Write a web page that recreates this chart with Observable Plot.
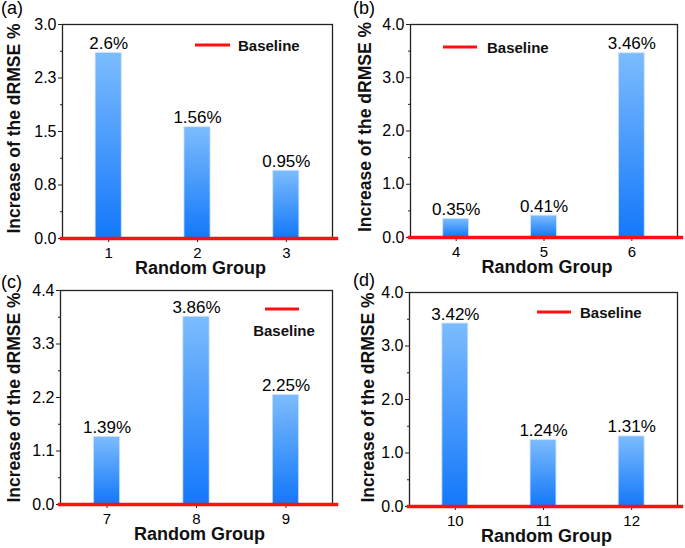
<!DOCTYPE html>
<html>
<head>
<meta charset="utf-8">
<script src="https://cdn.jsdelivr.net/npm/d3@7"></script>
<script src="https://cdn.jsdelivr.net/npm/@observablehq/plot@0.6"></script>
<style>
  body { margin: 0; background: white; }
  #root { position: relative; width: 685px; height: 548px; overflow: hidden; background: white; }
  .panel { position: absolute; }
</style>
</head>
<body>
<div id="root"></div>
<script>
// ---- Data ----
const groupsA = [1, 2, 3];
const valuesA = [2.6, 1.56, 0.95];
const labelsA = ["2.6%", "1.56%", "0.95%"];
const yTicksA = [0, 0.75, 1.5, 2.25, 3.0];
const yTickLabelsA = ["0.0", "0.8", "1.5", "2.3", "3.0"];
const yMaxA = 3.0;

const groupsB = [4, 5, 6];
const valuesB = [0.35, 0.41, 3.46];
const labelsB = ["0.35%", "0.41%", "3.46%"];
const yTicksB = [0, 1, 2, 3, 4];
const yTickLabelsB = ["0.0", "1.0", "2.0", "3.0", "4.0"];
const yMaxB = 4.0;

const groupsC = [7, 8, 9];
const valuesC = [1.39, 3.86, 2.25];
const labelsC = ["1.39%", "3.86%", "2.25%"];
const yTicksC = [0, 1.1, 2.2, 3.3, 4.4];
const yTickLabelsC = ["0.0", "1.1", "2.2", "3.3", "4.4"];
const yMaxC = 4.4;

const groupsD = [10, 11, 12];
const valuesD = [3.42, 1.24, 1.31];
const labelsD = ["3.42%", "1.24%", "1.31%"];
const yTicksD = [0, 1, 2, 3, 4];
const yTickLabelsD = ["0.0", "1.0", "2.0", "3.0", "4.0"];
const yMaxD = 4.0;

const xTitle = "Random Group";
const yTitle = "Increase of the dRMSE %";
const legendText = "Baseline";

const NS = "http://www.w3.org/2000/svg";
function el(tag, attrs, text) {
  const e = document.createElementNS(NS, tag);
  for (const k in attrs) e.setAttribute(k, attrs[k]);
  if (text != null) e.textContent = text;
  return e;
}

function panel(cfg) {
  const {groups, values, labels, yTicks, yTickLabels, yMax, left, top, width, height,
         ml, mr, mt, mb, gid, letter, letterPos, leg, ytDx, ytDy, xtDy} = cfg;
  const data = groups.map((g, i) => ({g, v: values[i], label: labels[i]}));
  const x0 = groups[0] - 0.52, x1 = groups[groups.length - 1] + 0.52;
  const halves = d3.range(groups[0] - 0.5, groups[groups.length - 1] + 0.51, 1);
  const yMinor = yTicks.slice(1).map((t, i) => (t + yTicks[i]) / 2);
  const fmt = new Map(yTicks.map((t, i) => [t, yTickLabels[i]]));

  const defs = () => {
    const d = el("defs", {});
    const lg = el("linearGradient", {id: gid, x1: "0", y1: "0", x2: "0", y2: "1"});
    lg.appendChild(el("stop", {offset: "0%", "stop-color": "#7cbcfd"}));
    lg.appendChild(el("stop", {offset: "100%", "stop-color": "#1378fa"}));
    d.appendChild(lg);
    return d;
  };
  const decor = () => {
    const g = el("g", {"font-family": "'Liberation Sans', Arial, sans-serif"});
    g.appendChild(el("text", {x: letterPos[0], y: letterPos[1], "font-size": 18, fill: "#000", "text-anchor": "start"}, letter));
    g.appendChild(el("line", {x1: leg.lx1, x2: leg.lx2, y1: leg.ly, y2: leg.ly, stroke: "#ff1010", "stroke-width": 3}));
    g.appendChild(el("text", {x: leg.tx, y: leg.ty, "font-size": 15, "font-weight": "bold", fill: "#111",
      "text-anchor": leg.anchor || "start", "dominant-baseline": "central"}, legendText));
    return g;
  };

  const chart = Plot.plot({
    width, height,
    marginLeft: ml, marginRight: mr, marginTop: mt, marginBottom: mb,
    x: {type: "linear", domain: [x0, x1], label: null},
    y: {domain: [0, yMax], label: null},
    style: {fontFamily: "'Liberation Sans', Arial, sans-serif", color: "#000", background: "none", overflow: "visible"},
    marks: [
      defs,
      Plot.rectY(data, {x1: d => d.g - 0.147, x2: d => d.g + 0.147, y1: 0, y2: "v",
        fill: `url(#${gid})`, stroke: "#cfe3ff", strokeWidth: 0.8}),
      Plot.text(data, {x: "g", y: "v", text: "label", dy: -4, lineAnchor: "bottom", fontSize: 17, fill: "#000"}),
      Plot.frame({stroke: "#222", strokeWidth: 1.3}),
      Plot.axisY(yTicks, {tickSize: 4, tickPadding: 2, fontSize: 16, tickFormat: d => fmt.get(d), label: null, stroke: "#222"}),
      Plot.axisY(yMinor, {tickSize: 2, tickFormat: () => "", label: null, stroke: "#222"}),
      Plot.axisX(groups, {tickSize: 4, tickPadding: 5, fontSize: 15, tickFormat: d => String(d), label: null, stroke: "#222"}),
      Plot.axisX(halves, {tickSize: 2, tickFormat: () => "", label: null, stroke: "#222"}),
      Plot.ruleY([0], {x1: x0 - 0.025, x2: x1 + 0.07, stroke: "#ff1010", strokeWidth: 3.5}),
      Plot.text([xTitle], {frameAnchor: "bottom", lineAnchor: "middle", textAnchor: "middle", dy: xtDy, dx: 3,
        fontWeight: "bold", fontSize: 18, fill: "#111"}),
      Plot.text([yTitle], {frameAnchor: "left", rotate: -90, textAnchor: "middle", lineAnchor: "middle",
        dx: ytDx, dy: ytDy, fontWeight: "bold", fontSize: 17.5, fill: "#111"}),
      decor
    ]
  });
  const wrap = document.createElement("div");
  wrap.className = "panel";
  wrap.style.left = left + "px";
  wrap.style.top = top + "px";
  wrap.appendChild(chart);
  document.getElementById("root").appendChild(wrap);
}

panel({groups: groupsA, values: valuesA, labels: labelsA, yTicks: yTicksA, yTickLabels: yTickLabelsA, yMax: yMaxA,
  left: 0, top: 0, width: 342, height: 278, ml: 62, mr: 10, mt: 24, mb: 40, gid: "gA",
  letter: "(a)", letterPos: [1, 14], ytDx: -48, ytDy: -3, xtDy: 30,
  leg: {lx1: 195, lx2: 230, ly: 45, tx: 238, ty: 45}});
panel({groups: groupsB, values: valuesB, labels: labelsB, yTicks: yTicksB, yTickLabels: yTickLabelsB, yMax: yMaxB,
  left: 340, top: 0, width: 345, height: 278, ml: 70, mr: 8, mt: 24, mb: 41, gid: "gB",
  letter: "(b)", letterPos: [13, 14], ytDx: -45, ytDy: -4, xtDy: 30,
  leg: {lx1: 103, lx2: 137, ly: 47, tx: 147, ty: 47}});
panel({groups: groupsC, values: valuesC, labels: labelsC, yTicks: yTicksC, yTickLabels: yTickLabelsC, yMax: yMaxC,
  left: 0, top: 268, width: 342, height: 280, ml: 60, mr: 10, mt: 22, mb: 44, gid: "gC",
  letter: "(c)", letterPos: [1, 20], ytDx: -46, ytDy: 0, xtDy: 30,
  leg: {lx1: 265, lx2: 299, ly: 41, tx: 284, ty: 62, anchor: "middle"}});
panel({groups: groupsD, values: valuesD, labels: labelsD, yTicks: yTicksD, yTickLabels: yTickLabelsD, yMax: yMaxD,
  left: 340, top: 268, width: 345, height: 280, ml: 69, mr: 8, mt: 24, mb: 42, gid: "gD",
  letter: "(d)", letterPos: [13, 18], ytDx: -41, ytDy: -2, xtDy: 30,
  leg: {lx1: 197, lx2: 231, ly: 44, tx: 240, ty: 44}});
</script>
</body>
</html>
